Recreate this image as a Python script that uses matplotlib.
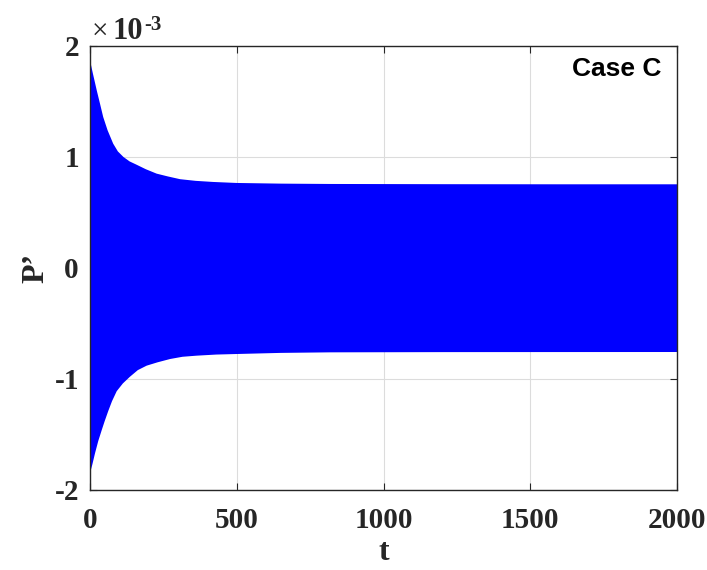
import matplotlib.pyplot as plt

# envelope of p' (the signal is so dense it renders as a solid band), units of 1e-3
t_upper = [0, 10, 23, 35, 45, 60, 79, 95, 114, 135, 159, 190, 227, 265, 307, 360, 420, 500, 650, 818, 1200, 1600, 2000]
p_upper = [1.87, 1.75, 1.60, 1.47, 1.36, 1.24, 1.12, 1.05, 1.00, 0.96, 0.93, 0.89, 0.85, 0.825, 0.80, 0.785, 0.775, 0.766, 0.760, 0.757, 0.755, 0.754, 0.754]

t_lower = [0, 8, 17, 28, 40, 50, 62, 75, 91, 112, 136, 163, 193, 230, 273, 315, 363, 430, 500, 650, 818, 1200, 2000]
p_lower = [-1.85, -1.77, -1.67, -1.56, -1.46, -1.38, -1.29, -1.20, -1.11, -1.04, -0.98, -0.92, -0.88, -0.85, -0.82, -0.80, -0.79, -0.78, -0.775, -0.765, -0.76, -0.758, -0.757]

x_ticks = [0, 500, 1000, 1500, 2000]
y_ticks = [-2, -1, 0, 1, 2]

serif = 'Liberation Serif'
dark = '#262626'

fig = plt.figure(figsize=(7.07, 5.70), dpi=100)
ax = fig.add_axes([0.1273, 0.1404, 0.8303, 0.7789])

# one closed band: upper edge left to right, lower edge back
band_t = t_upper + t_lower[::-1]
band_p = p_upper + p_lower[::-1]
ax.fill(band_t, band_p, color='#0000FF', linewidth=0, zorder=2)

ax.set_xlim(0, 2000)
ax.set_ylim(-2, 2)
ax.set_xticks(x_ticks)
ax.set_yticks(y_ticks)
ax.set_xticklabels([str(v) for v in x_ticks], fontfamily=serif, fontweight='bold', fontsize=21)
ax.set_yticklabels([str(v) for v in y_ticks], fontfamily=serif, fontweight='bold', fontsize=21)
ax.tick_params(direction='in', length=5, width=0.8, colors=dark, top=True, right=True)
ax.tick_params(axis='x', pad=12)
ax.tick_params(axis='y', pad=8)
for s in ax.spines.values():
    s.set_color(dark)
    s.set_linewidth(1.0)
    s.set_zorder(5)

ax.grid(True, color='#dcdcdc', linewidth=0.8, zorder=0)
ax.set_axisbelow(True)

ax.set_xlabel('t', fontfamily=serif, fontweight='bold', fontsize=23, color=dark, labelpad=3)
ax.set_ylabel('P\u2019', fontfamily=serif, fontweight='bold', fontsize=23, color=dark, labelpad=3)

# exponent marker, MATLAB style
fig.text(0.130, 0.919, '\u00d7', fontfamily=serif, fontsize=21, color=dark, va='bottom')
fig.text(0.159, 0.919, '10', fontfamily=serif, fontweight='bold', fontsize=22, color=dark, va='bottom')
fig.text(0.204, 0.938, '-3', fontfamily=serif, fontweight='bold', fontsize=15, color=dark, va='bottom')

ax.text(0.973, 0.949, 'Case C', transform=ax.transAxes, ha='right', va='center',
        fontfamily='Liberation Sans', fontweight='bold', fontsize=19, color='black')

fig.savefig('out.png', dpi=100)
